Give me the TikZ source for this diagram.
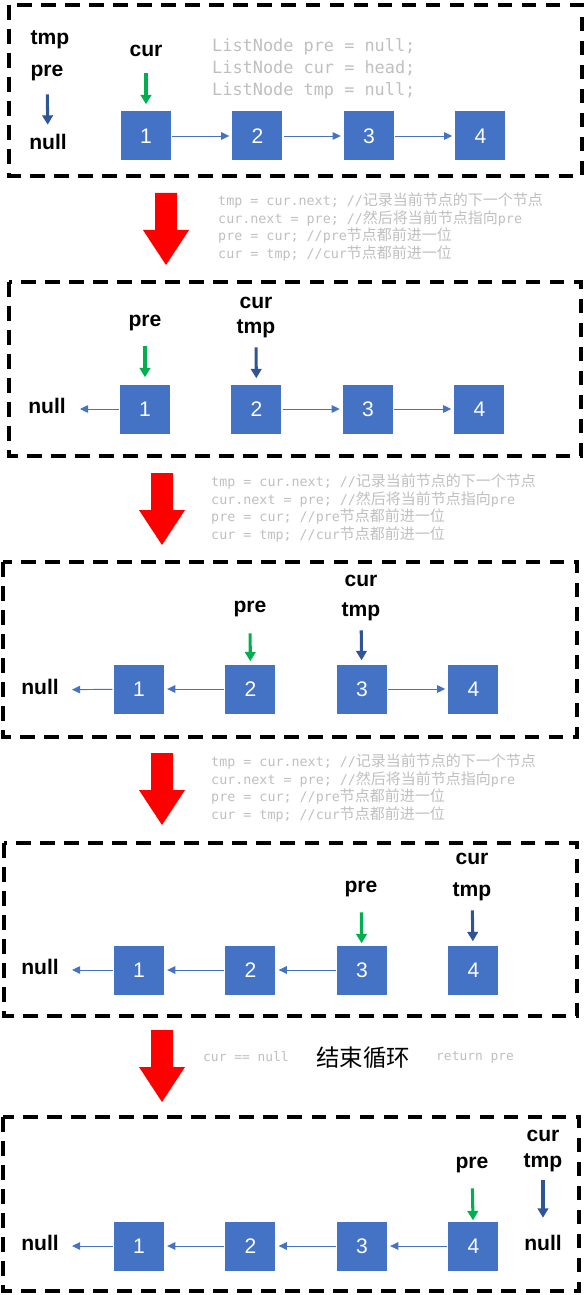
\documentclass[tikz,border=0pt]{standalone}
\usepackage{fontspec}
\setmainfont{Liberation Sans}
\newfontfamily\codefont{DejaVu Sans Mono}
\newfontfamily\cjk{Noto Sans CJK SC}
\usetikzlibrary{positioning, arrows.meta}
\definecolor{BoxBlue}{RGB}{68, 114, 196}
\definecolor{PtrGreen}{RGB}{0, 176, 80}
\definecolor{PtrNavy}{RGB}{47, 85, 151}
\definecolor{CodeGray}{RGB}{191, 191, 191}
\newcommand{\zh}[1]{{\cjk\fontsize{12.8}{15}\selectfont #1}}

\begin{document}
\begin{tikzpicture}[x=0.03cm, y=-0.03cm,
  box/.style={%
    rectangle, fill=BoxBlue, text=white,
    font=\fontsize{18}{18}\selectfont,
    minimum width=1.5cm, minimum height=1.47cm, inner sep=0pt},
  lbl/.style={font=\fontsize{18}{18}\selectfont\bfseries,
    inner sep=0pt, text height=12pt, text depth=3.5pt},
  codetxt/.style={font=\codefont\fontsize{11.4}{15}\selectfont,
    text=CodeGray, align=left, inner sep=0pt, anchor=west},
  link/.style={->, >={Triangle[length=7pt, width=6.5pt]}, color=BoxBlue,
    line width=0.8pt, shorten <=1pt, shorten >=2.5pt},
  gptr/.style={-{Triangle[length=8pt, width=9pt]}, color=PtrGreen, line width=2.6pt},
  nptr/.style={-{Triangle[length=8pt, width=9pt]}, color=PtrNavy, line width=2.6pt},
  panel/.style={draw, line width=3.4pt, dash pattern=on 12.5pt off 8pt}
]
\useasboundingbox (0,0) rectangle (586,1295);

% panel 1: start
\draw[panel] (9,5) rectangle (582,176);
\node[box] (a1) at (146,136) {1};
\node[box, right=1.83cm of a1] (a2) {2};
\node[box, right=1.83cm of a2] (a3) {3};
\node[box, right=1.83cm of a3] (a4) {4};
\draw[link] (a1) -- (a2);
\draw[link] (a2) -- (a3);
\draw[link] (a3) -- (a4);
\node[lbl] (tmpA)  at (50,40)  {tmp};
\node[lbl] (preA)  at (47,72)  {pre};
\node[lbl] (nullA) at (48,145) {null};
\node[lbl] (curA)  at (146,52) {cur};
\draw[nptr, shorten <=0.39cm, shorten >=0.33cm] (preA) -- (nullA);
\draw[gptr, shorten <=0.36cm, shorten >=0.21cm] (curA) -- (a1);
\node[codetxt, font=\codefont\fontsize{14.4}{18.8}\selectfont] (init) at (212,69)
  {ListNode pre = null;\\ListNode cur = head;\\ListNode tmp = null;};

% red step arrows
\foreach \ax/\ay in {166/193, 162/473, 162/753, 162/1030}
  \fill[red] (\ax-11,\ay) -- (\ax+11,\ay) -- (\ax+11,\ay+37) -- (\ax+23,\ay+37)
    -- (\ax,\ay+72) -- (\ax-23,\ay+37) -- (\ax-11,\ay+37) -- cycle;

% loop body
\foreach \n/\cx/\cy in {1/218/227, 2/211/508, 3/211/788}
  \node[codetxt] (step\n) at (\cx,\cy)
    {tmp = cur.next; //\zh{记录当前节点的下一个节点}\\
     cur.next = pre; //\zh{然后将当前节点指向}pre\\
     pre = cur; //pre\zh{节点都前进一位}\\
     cur = tmp; //cur\zh{节点都前进一位}};

% panel 2
\draw[panel] (9,282) rectangle (581,456);
\node[box] (b1) at (145,409) {1};
\node[box, right=1.83cm of b1] (b2) {2};
\node[box, right=1.83cm of b2] (b3) {3};
\node[box, right=1.83cm of b3] (b4) {4};
\node[lbl] (nullB) at (47,409) {null};
\node[lbl] (preB)  at (145,322) {pre};
\node[lbl] (curB)  at (256,304) {cur};
\node[lbl] (tmpB)  at (256,329) {tmp};
\draw[link, shorten >=0.42cm] (b1) -- (nullB);
\draw[link] (b2) -- (b3);
\draw[link] (b3) -- (b4);
\draw[gptr, shorten <=0.45cm, shorten >=0.21cm] (preB) -- (b1);
\draw[nptr, shorten <=0.27cm, shorten >=0.18cm] (tmpB) -- (b2);

% panel 3
\draw[panel] (3,562) rectangle (577,737);
\node[box] (c1) at (139,689) {1};
\node[box, right=1.83cm of c1] (c2) {2};
\node[box, right=1.83cm of c2] (c3) {3};
\node[box, right=1.83cm of c3] (c4) {4};
\node[lbl] (nullC) at (40,690) {null};
\node[lbl] (preC)  at (250,608) {pre};
\node[lbl] (curC)  at (361,582) {cur};
\node[lbl] (tmpC)  at (361,612) {tmp};
\draw[link, shorten >=0.39cm] (c1) -- (nullC);
\draw[link] (c2) -- (c1);
\draw[link] (c3) -- (c4);
\draw[gptr, shorten <=0.48cm, shorten >=0.09cm] (preC) -- (c2);
\draw[nptr, shorten <=0.27cm, shorten >=0.12cm] (tmpC) -- (c3);

% panel 4
\draw[panel] (4,843) rectangle (577,1016);
\node[box] (d1) at (139,970) {1};
\node[box, right=1.83cm of d1] (d2) {2};
\node[box, right=1.83cm of d2] (d3) {3};
\node[box, right=1.83cm of d3] (d4) {4};
\node[lbl] (nullD) at (40,970) {null};
\node[lbl] (preD)  at (361,888) {pre};
\node[lbl] (curD)  at (472,860) {cur};
\node[lbl] (tmpD)  at (472,892) {tmp};
\draw[link, shorten >=0.39cm] (d1) -- (nullD);
\draw[link] (d2) -- (d1);
\draw[link] (d3) -- (d2);
\draw[gptr, shorten <=0.45cm, shorten >=0.06cm] (preD) -- (d3);
\draw[nptr, shorten <=0.27cm, shorten >=0.12cm] (tmpD) -- (d4);

% loop ends
\node[codetxt, font=\codefont\fontsize{11}{15}\selectfont] (endA) at (203,1057) {cur == null};
\node[font=\cjk\fontsize{20}{20}\selectfont, inner sep=0pt] (endB) at (363,1058) {结束循环};
\node[codetxt, font=\codefont\fontsize{11}{15}\selectfont] (endC) at (436,1057) {return pre};

% panel 5
\draw[panel] (3,1117) rectangle (579,1291);
\node[box] (e1) at (139,1246) {1};
\node[box, right=1.83cm of e1] (e2) {2};
\node[box, right=1.83cm of e2] (e3) {3};
\node[box, right=1.83cm of e3] (e4) {4};
\node[lbl] (nullE) at (40,1246) {null};
\node[lbl] (preE)  at (472,1164) {pre};
\node[lbl] (curE)  at (543,1137) {cur};
\node[lbl] (tmpE)  at (543,1163) {tmp};
\node[lbl] (nullF) at (543,1246) {null};
\draw[link, shorten >=0.39cm] (e1) -- (nullE);
\draw[link] (e2) -- (e1);
\draw[link] (e3) -- (e2);
\draw[link] (e4) -- (e3);
\draw[gptr, shorten <=0.45cm, shorten >=0.03cm] (preE) -- (e4);
\draw[nptr, shorten <=0.24cm, shorten >=0.57cm] (tmpE) -- (nullF);
\end{tikzpicture}
\end{document}
